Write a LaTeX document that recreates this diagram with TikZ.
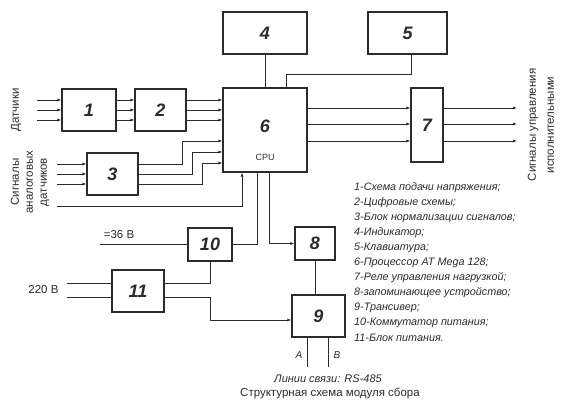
\documentclass[tikz,border=0pt]{standalone}
\usepackage{fontspec}
\setmainfont{Liberation Sans}
\usepackage{tikz}
\usetikzlibrary{positioning,calc,arrows.meta}
\definecolor{inkdark}{HTML}{2B2B2B}

\begin{document}
\begin{tikzpicture}[
  x=1pt, y=-1pt,
  blk/.style={draw=inkdark, line width=1.1pt, fill=white, inner sep=0pt,
    font=\fontsize{18}{18}\selectfont\bfseries\itshape\color{inkdark}},
  wire/.style={draw=inkdark, line width=0.9pt},
  sig/.style={wire, -{Latex[length=4pt,width=3pt]}},
  legend/.style={font=\fontsize{10.8}{11}\selectfont\itshape\color{inkdark}, inner sep=0pt, anchor=west},
  side/.style={font=\fontsize{11.5}{14}\selectfont\color{inkdark}, align=center, rotate=90},
  small/.style={font=\fontsize{11.5}{12}\selectfont\color{inkdark}},
]
\useasboundingbox (0,0) rectangle (562,403);

% Blocks
\node[blk, minimum width=54, minimum height=42] (b1) at (89,110) {1};
\node[blk, minimum width=51, minimum height=42] (b2) at (160.5,110) {2};
\node[blk, minimum width=51, minimum height=42] (b3) at (112.5,174) {3};
\node[blk, minimum width=84, minimum height=42] (b4) at (265,33) {4};
\node[blk, minimum width=79, minimum height=42] (b5) at (407.5,33) {5};
\node[blk, minimum width=84, minimum height=84] (b6) at (265,130) {};
\node[blk, minimum width=32, minimum height=74] (b7) at (427,125) {7};
\node[blk, minimum width=40, minimum height=33] (b8) at (315,243.5) {8};
\node[blk, minimum width=53, minimum height=42] (b9) at (318.5,316) {9};
\node[blk, minimum width=44, minimum height=33] (b10) at (210,244.5) {10};
\node[blk, minimum width=52, minimum height=42] (b11) at (138,291) {11};
\node[font=\fontsize{18}{18}\selectfont\bfseries\itshape\color{inkdark}] (n6) at (265,126) {6};
\node[font=\fontsize{9}{9}\selectfont\color{inkdark}] (cpu) at (265,157) {CPU};

% Sensors
\coordinate (sens) at (37,110);
\coordinate (ana) at (57,174);
\foreach \dy in {-10,0,10} {
  \draw[sig] ($(sens)+(0,\dy)$) -- ($(b1.west)+(0,\dy)$);
  \draw[sig] ($(b1.east)+(0,\dy)$) -- ($(b2.west)+(0,\dy)$);
  \draw[sig] ($(b2.east)+(0,\dy)$) -- ($(b6.west |- b2)+(0,\dy)$);
  \draw[sig] ($(ana)+(0,\dy)$) -- ($(b3.west)+(0,\dy)$);
}
\foreach \dy/\xm/\yc in {-10/182/141, 0/192/152, 10/202/163}
  \draw[sig] ($(b3.east)+(0,\dy)$) -| (\xm,\yc) -- (b6.west |- 0,\yc);
\coordinate (anb) at (57,206);
\draw[sig] (anb) -| ([xshift=-23pt]b6.south);
\node[side] (tsens) at (16,110) {Датчики};
\node[side] (tana) at (30,182) {Сигналы\\аналоговых\\датчиков};

% Indicator, keyboard
\draw[wire] (b4.south) -- (b6.north);
\draw[wire] ([xshift=3.5pt]b5.south) |- (286,74) -- (b6.north -| 286,0);

% Relay outputs
\foreach \y in {108,124,141} {
  \draw[sig] (b6.east |- 0,\y) -- (b7.west |- 0,\y);
  \draw[sig] (b7.east |- 0,\y) -- (517,\y);
}
\node[side, font=\fontsize{11.5}{18}\selectfont\color{inkdark}] (tout) at (541,125) {Сигналы управления\\исполнительными};

% Power
\coordinate (p36) at (100,244);
\draw[wire] (p36) -- (b10.west |- p36);
\node[small] (t36) at (119,235) {=36 В};
\coordinate (p220) at (67,291);
\draw[wire] ($(p220)+(0,-8)$) -- ($(b11.west)+(0,-8)$);
\draw[wire] ($(p220)+(0,6)$) -- ($(b11.west)+(0,6)$);
\node[small, anchor=east] (t220) at (62,290) {220 В};
\draw[wire] ($(b11.east)+(0,-8)$) -| (b10.south);
\draw[sig] ($(b11.east)+(0,6)$) -| (210,320) -- (b9.west |- 0,320);
\draw[wire] ([xshift=-8pt]b6.south) |- (b10.east);
\draw[sig] ([xshift=4pt]b6.south) |- (b8.west);
\draw[wire] (b8.south) -- (b8.south |- b9.north);

% RS-485
\coordinate (la) at (307,367);
\coordinate (lb) at (328,367);
\draw[wire] (b9.south -| la) -- (la);
\draw[wire] (b9.south -| lb) -- (lb);
\node[small, font=\fontsize{10}{10}\selectfont\itshape\color{inkdark}] (ta) at (299,355) {A};
\node[small, font=\fontsize{10}{10}\selectfont\itshape\color{inkdark}] (tb) at (337,355) {B};
\node[small, font=\fontsize{11}{11}\selectfont\itshape\color{inkdark}] (tline) at (328,379) {Линии связи: RS-485};
\node[small, font=\fontsize{11.5}{12}\selectfont\color{inkdark}] (tcap) at (330,393) {Структурная схема модуля сбора};

% Legend
\foreach \i/\t in {%
  1/{Схема подачи напряжения;},
  2/{Цифровые схемы;},
  3/{Блок нормализации сигналов;},
  4/{Индикатор;},
  5/{Клавиатура;},
  6/{Процессор AT Mega 128;},
  7/{Реле управления нагрузкой;},
  8/{запоминающее устройство;},
  9/{Трансивер;},
  10/{Коммутатор питания;},
  11/{Блок питания.}%
} {
  \node[legend] (l\i) at (354,173+\i*15) {\i-\t};
}
\end{tikzpicture}
\end{document}
